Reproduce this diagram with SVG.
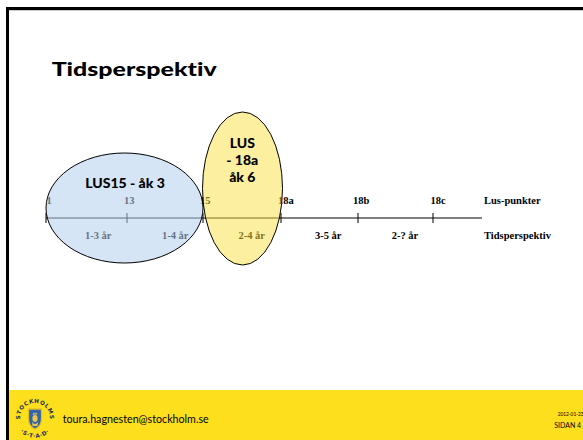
<svg xmlns="http://www.w3.org/2000/svg" width="583" height="440" viewBox="0 0 583 440">
<style>
.tk{font-family:"Liberation Serif","Times New Roman",serif;font-weight:bold;font-size:10.5px;fill:#000}
.gs{font-family:Lato,"Open Sans",sans-serif;font-weight:900;fill:#000;font-variant-ligatures:none}
.tick{stroke:#000;stroke-width:1}
.seal{font-family:"DejaVu Sans",sans-serif;font-weight:bold;font-size:5.6px;fill:#1c2d5c}
</style>
<defs>
<path id="sealTop" d="M20.9,423.1 A15,15 0 1 1 49.1,423.1"/>
<path id="sealBot" d="M16.2,424.8 A20,20 0 0 0 53.8,424.8"/>
</defs>
<rect x="0" y="0" width="583" height="440" fill="#fff"/>
<g id="frame">
<rect x="6" y="390" width="577" height="50" fill="#fddf1d"/>
<line x1="6" y1="8.5" x2="583" y2="8.5" stroke="#000" stroke-width="3"/>
<line x1="6" y1="10.5" x2="583" y2="10.5" stroke="#bbb" stroke-width="0.8"/>
<line x1="7.5" y1="7" x2="7.5" y2="440" stroke="#000" stroke-width="3"/>
</g>
<g id="title">
<text class="gs" x="51.7" y="76" font-size="19.5" font-weight="bold" textLength="165" lengthAdjust="spacingAndGlyphs">Tidsperspektiv</text>
</g>
<g id="axis">
<line x1="46" y1="218" x2="482" y2="218" stroke="#000" stroke-width="1"/>
<line class="tick" x1="46" y1="213" x2="46" y2="223"/>
<line class="tick" x1="127" y1="213" x2="127" y2="223"/>
<line class="tick" x1="203" y1="213" x2="203" y2="223"/>
<line class="tick" x1="281" y1="213" x2="281" y2="223"/>
<line class="tick" x1="358" y1="213" x2="358" y2="223"/>
<line class="tick" x1="433" y1="213" x2="433" y2="223"/>
<text class="tk" x="46.5" y="204">1</text>
<text class="tk" x="124" y="204">13</text>
<text class="tk" x="200" y="204">15</text>
<text class="tk" x="278" y="204">18a</text>
<text class="tk" x="353" y="204">18b</text>
<text class="tk" x="430.5" y="204">18c</text>
<text class="tk" x="484" y="204">Lus-punkter</text>
<text class="tk" x="85" y="238.5">1-3 år</text>
<text class="tk" x="162" y="238.5">1-4 år</text>
<text class="tk" x="238.5" y="238.5">2-4 år</text>
<text class="tk" x="315" y="238.5">3-5 år</text>
<text class="tk" x="391.7" y="238.5">2-? år</text>
<text class="tk" x="484" y="238.5">Tidsperspektiv</text>
</g>
<g id="lus15">
<ellipse cx="124.5" cy="208" rx="78.5" ry="55" fill="#b3d0ec" fill-opacity="0.55" stroke="#000" stroke-width="1"/>
<text class="gs" x="125" y="187.7" font-size="14" text-anchor="middle">LUS15 - åk 3</text>
</g>
<g id="lus18a">
<ellipse cx="242.5" cy="188.5" rx="40" ry="76.5" fill="#fae042" fill-opacity="0.5" stroke="#000" stroke-width="1"/>
<text class="gs" x="242.3" y="147.7" font-size="14" text-anchor="middle">LUS</text>
<text class="gs" x="242.3" y="165" font-size="14" text-anchor="middle">- 18a</text>
<text class="gs" x="242.3" y="181.7" font-size="14" text-anchor="middle">åk 6</text>
</g>
<g id="footer">
<g id="logo">
<circle cx="35" cy="418" r="20.5" fill="#fddf1d"/>
<path d="M28.5,409 H41.5 V419 C41.5,424 38.5,427.5 35,429 C31.5,427.5 28.5,424 28.5,419 Z" fill="#2f63ad" stroke="#e8c21e" stroke-width="1.3"/>
<ellipse cx="35" cy="418.5" rx="2.6" ry="3.4" fill="#e9c64a"/>
<path d="M32,422 Q35,426 38,422 L37.5,426 H32.5 Z" fill="#e9c64a"/>
<path d="M32.5,414.5 L33.3,412.5 L34.2,414 L35,412 L35.8,414 L36.7,412.5 L37.5,414.5 Z" fill="#e9c64a"/>
<text class="seal"><textPath href="#sealTop" startOffset="50%" text-anchor="middle" letter-spacing="0.6">STOCKHOLMS</textPath></text>
<text class="seal"><textPath href="#sealBot" startOffset="50%" text-anchor="middle" letter-spacing="0.6">·S·T·A·D·</textPath></text>
</g>
<text x="62.7" y="423" font-family="Lato,'Open Sans',sans-serif" font-size="11" fill="#000" textLength="146" lengthAdjust="spacingAndGlyphs">toura.hagnesten@stockholm.se</text>
<text x="557.7" y="416" font-family="Lato,sans-serif" font-size="4.8" fill="#000">2012-01-23</text>
<text x="554.3" y="428" font-family="Lato,sans-serif" font-size="7" fill="#000">SIDAN 4</text>
</g>
</svg>
